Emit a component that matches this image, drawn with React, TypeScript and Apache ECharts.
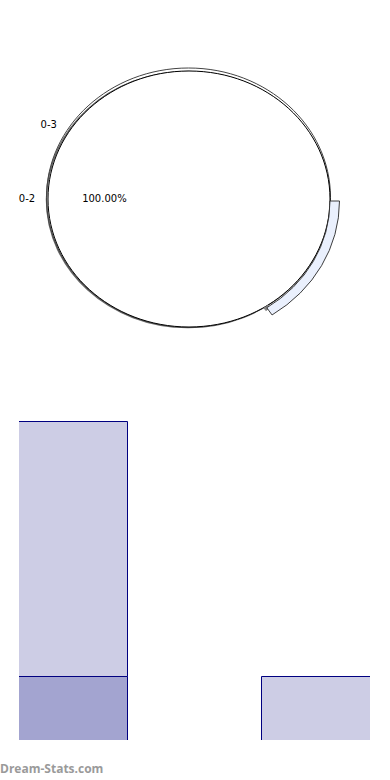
import React, { useEffect, useRef } from "react";
import * as echarts from "echarts";

// ---- data ----
const pieNames = ["0-2", "0-3"];
const pieValues = [100, 0];
const pieLabelText = ["100.00%", ""];

const barCategories = ["0-2", "0-3"];
const barDarkValues = [1, 0];
const barLightValues = [4, 1];
const barSeriesColors = ["#a3a4d0", "#cdcde5"];

const watermark = "Dream-Stats.com";

export default function App() {
  const ref = useRef<HTMLDivElement>(null);

  useEffect(() => {
    if (!ref.current) return;
    const chart = echarts.init(ref.current, null, { renderer: "svg" });

    // stacked bar rows: [categoryIndex, start, end, seriesIndex]
    const barRows: number[][] = [];
    barCategories.forEach((_, i) => {
      let start = 0;
      [barDarkValues, barLightValues].forEach((arr, s) => {
        const v = arr[i];
        if (v > 0) barRows.push([i, start, start + v, s]);
        start += v;
      });
    });

    const total = pieValues.reduce((a, b) => a + b, 0);
    const CX = 189;
    const CY = 198;
    const RX = 141;
    const RY = 128;
    const font = "DejaVu Sans";

    const option: any = {
      animation: false,
      backgroundColor: "#ffffff",
      grid: { left: 19, right: 20, top: 421, bottom: 40 },
      xAxis: {
        type: "category",
        data: barCategories,
        boundaryGap: false,
        show: false,
      },
      yAxis: { type: "value", min: 0, max: 5, show: false, splitLine: { show: false } },
      graphic: [
        {
          type: "text",
          left: 0,
          top: 762,
          style: { text: watermark, fill: "#9a9a9a", font: `bold 12px 'Open Sans'` },
        },
      ],
      series: [
        {
          type: "custom",
          coordinateSystem: "none",
          data: pieNames.map((n, i) => [i, pieValues[i]]),
          renderItem: (params: any, api: any) => {
            const idx = params.dataIndex;
            const val = api.value(1);
            const share = total > 0 ? val / total : 0;
            let before = 0;
            for (let k = 0; k < idx; k++) before += pieValues[k];
            const a0 = (before / total) * Math.PI * 2;
            const mid = a0 + share * Math.PI;
            const labelR = 162;
            const outerLabelAngle = idx === 0 ? Math.PI : (210 * Math.PI) / 180;
            const lx = CX + Math.cos(outerLabelAngle) * labelR;
            const ly = CY + Math.sin(outerLabelAngle) * labelR * (RY / RX);
            const children: any[] = [];
            if (share > 0) {
              children.push({
                type: "ellipse",
                shape: { cx: CX - 1, cy: CY + 1.5, rx: RX + 0.5, ry: RY },
                style: { fill: "none", stroke: "#666666", lineWidth: 1.5 },
              });
              children.push({
                type: "ellipse",
                shape: { cx: CX - 0.5, cy: CY - 0.5, rx: RX + 1, ry: RY + 1.5 },
                style: { fill: "none", stroke: "#444444", lineWidth: 1 },
              });
              children.push({
                type: "ellipse",
                shape: { cx: CX, cy: CY + 1, rx: RX, ry: RY },
                style: { fill: "#ffffff", stroke: "#000000", lineWidth: 1 },
              });
              // 3D edge band
              children.push({
                type: "group",
                x: CX,
                y: CY + 3,
                scaleX: 1,
                scaleY: RY / RX,
                children: [
                  {
                    type: "sector",
                    shape: {
                      cx: 0,
                      cy: 0,
                      r0: RX - 1.5,
                      r: RX + 2,
                      startAngle: (55.5 * Math.PI) / 180,
                      endAngle: (57.5 * Math.PI) / 180,
                      clockwise: true,
                    },
                    style: { fill: "#888888", stroke: "#777777", lineWidth: 1, strokeNoScale: true },
                  },
                  {
                    type: "sector",
                    shape: {
                      cx: 0,
                      cy: 0,
                      r0: RX,
                      r: RX + 9.5,
                      startAngle: 0,
                      endAngle: (56.5 * Math.PI) / 180,
                      clockwise: true,
                    },
                    style: { fill: "#eaf0fd", stroke: "#333333", lineWidth: 1, strokeNoScale: true },
                  },
                ],
              });
              const inR = RX * 0.6;
              children.push({
                type: "text",
                x: CX + Math.cos(mid) * inR,
                y: CY + Math.sin(mid) * inR * (RY / RX),
                style: {
                  text: pieLabelText[idx],
                  fill: "#000000",
                  font: `10px '${font}'`,
                  align: "center",
                  verticalAlign: "middle",
                },
              });
            }
            children.push({
              type: "text",
              x: lx,
              y: ly,
              style: {
                text: pieNames[idx],
                fill: "#000000",
                font: `10px '${font}'`,
                align: "center",
                verticalAlign: "middle",
              },
            });
            return { type: "group", children };
          },
        },
        {
          type: "custom",
          coordinateSystem: "cartesian2d",
          clip: true,
          data: barRows,
          encode: { x: 0, y: [1, 2] },
          renderItem: (params: any, api: any) => {
            const cat = api.value(0);
            const p0 = api.coord([cat, api.value(1)]);
            const p1 = api.coord([cat, api.value(2)]);
            const step = Math.abs(api.coord([1, 0])[0] - api.coord([0, 0])[0]);
            const bw = step * 0.618;
            const x0 = Math.floor(p0[0] - bw / 2) + 0.5;
            const x1 = Math.floor(p0[0] + bw / 2) + 0.5;
            const yb = Math.round(p0[1]) + 0.5;
            const yt = Math.round(p1[1]) + 0.5;
            const s = api.value(3);
            return {
              type: "rect",
              shape: { x: x0, y: yt, width: x1 - x0, height: yb - yt },
              style: { fill: barSeriesColors[s], stroke: "#000080", lineWidth: 1 },
            };
          },
        },
      ],
    };

    chart.setOption(option);
    return () => chart.dispose();
  }, []);

  return (
    <div
      ref={ref}
      style={{ position: "fixed", left: 0, top: 0, width: 390, height: 780 }}
    />
  );
}
